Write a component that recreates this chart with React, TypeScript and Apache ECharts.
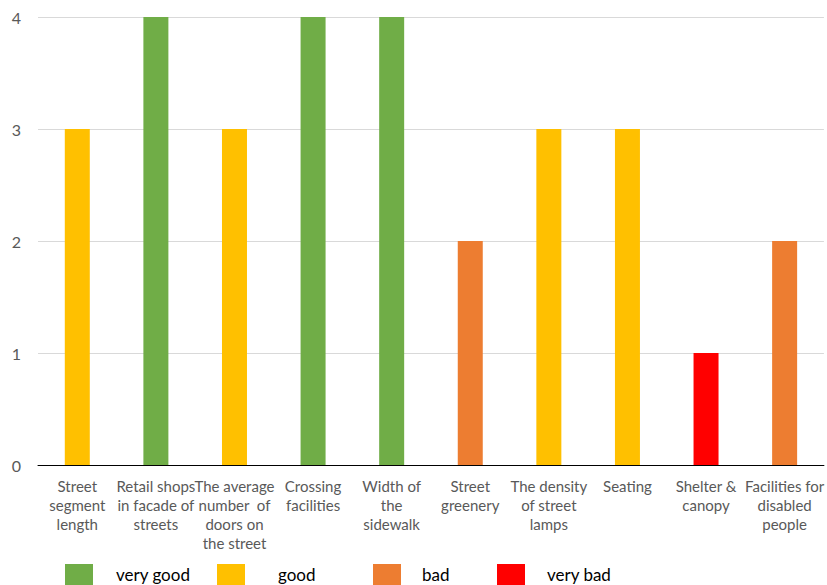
import React, { useEffect, useRef } from "react";
import * as echarts from "echarts";

const categories = [
  "Street\nsegment\nlength",
  "Retail shops\nin facade of\nstreets",
  "The average\nnumber  of\ndoors on\nthe street",
  "Crossing\nfacilities",
  "Width of\nthe\nsidewalk",
  "Street\ngreenery",
  "The density\nof street\nlamps",
  "Seating",
  "Shelter &\ncanopy",
  "Facilities for\ndisabled\npeople",
];
const values = [3, 4, 3, 4, 4, 2, 3, 3, 1, 2];
const ratingNames = ["very good", "good", "bad", "very bad"];
const ratingScores = [4, 3, 2, 1];
const ratingColors = ["#70AD47", "#FFC000", "#ED7D31", "#FF0000"];
const yTicks = [0, 1, 2, 3, 4];

const legendLefts = [65, 217, 373, 497];
const legendTextPads = [18, 28, 16, 17];

export default function App() {
  const ref = useRef<HTMLDivElement>(null);
  useEffect(() => {
    if (!ref.current) return;
    const chart = echarts.init(ref.current, undefined, { renderer: "svg" });
    const series = ratingNames.map((name, i) => ({
      name,
      type: "bar" as const,
      stack: "all",
      barWidth: 25,
      itemStyle: { color: ratingColors[i] },
      data: values.map((v) => (v === ratingScores[i] ? v : "-")),
    }));
    chart.setOption({
      animation: false,
      textStyle: { fontFamily: "Lato" },
      grid: { left: 38, right: -2, top: 17, bottom: 120, containLabel: false },
      xAxis: {
        type: "category",
        data: categories,
        axisLine: { lineStyle: { color: "#000", width: 1 } },
        axisTick: { show: false },
        axisLabel: {
          interval: 0,
          color: "#595959",
          fontSize: 15,
          lineHeight: 19,
          margin: 11,
          fontFamily: "Lato",
        },
      },
      yAxis: {
        type: "value",
        min: yTicks[0],
        max: yTicks[yTicks.length - 1],
        interval: 1,
        axisLine: { show: false },
        axisTick: { show: false },
        splitLine: { lineStyle: { color: "#D9D9D9", width: 1 } },
        axisLabel: { color: "#595959", fontSize: 16, margin: 17, fontFamily: "Lato" },
      },
      legend: ratingNames.map((n, i) => ({
        data: [n],
        left: legendLefts[i],
        top: 564,
        itemWidth: 28,
        itemHeight: 21,
        itemGap: 0,
        icon: "rect",
        textStyle: {
          fontSize: 17,
          color: "#000",
          padding: [0, 0, 0, legendTextPads[i]],
          fontFamily: "Lato",
        },
        padding: 0,
      })),
      series,
    });
    return () => chart.dispose();
  }, []);
  return <div ref={ref} style={{ width: 827, height: 585, position: "absolute", left: 0, top: 0 }} />;
}
